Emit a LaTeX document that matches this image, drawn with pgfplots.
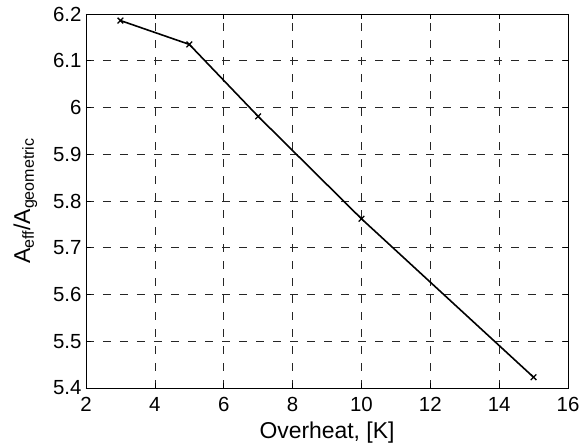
\documentclass[border=0pt]{standalone}
\usepackage{fontspec}
\setmainfont{Liberation Sans}
\usepackage{pgfplots}
\pgfplotsset{compat=1.18}
\begin{document}
\begin{tikzpicture}
\begin{axis}[
    scale only axis,
    width=482bp,
    height=374bp,
    xmin=2, xmax=16,
    ymin=5.4, ymax=6.2,
    xtick={2,4,...,16},
    ytick={5.4,5.5,...,6.2},
    tick align=inside,
    major tick length=5bp,
    tick style={black, line width=0.6pt},
    axis line style={line width=0.9pt},
    grid=major,
    grid style={black!85, line width=0.6pt, dash pattern=on 8bp off 9bp},
    tick label style={font=\fontsize{20.5}{24}\selectfont},
    label style={font=\fontsize{23}{27}\selectfont},
    /pgf/number format/assume math mode=true,
    /pgf/number format/fixed,
    xticklabel style={yshift=-6bp},
    yticklabel style={xshift=-1bp},
    xlabel={Overheat, [K]},
    ylabel={A\textsubscript{eff}/A\textsubscript{geometric}},
    xlabel style={yshift=-3bp},
    ylabel style={yshift=9bp},
]
\addplot[black, line width=1.6pt, mark=x, mark size=4bp, mark options={line width=1.3pt}] coordinates {
    (3,6.186) (5,6.135) (7,5.981) (10,5.762) (15,5.423)
};
\end{axis}
\pgfresetboundingbox
\useasboundingbox ([shift={(-86bp,-58bp)}]current axis.south west) rectangle ([shift={(12bp,14bp)}]current axis.north east);
\end{tikzpicture}
\end{document}
